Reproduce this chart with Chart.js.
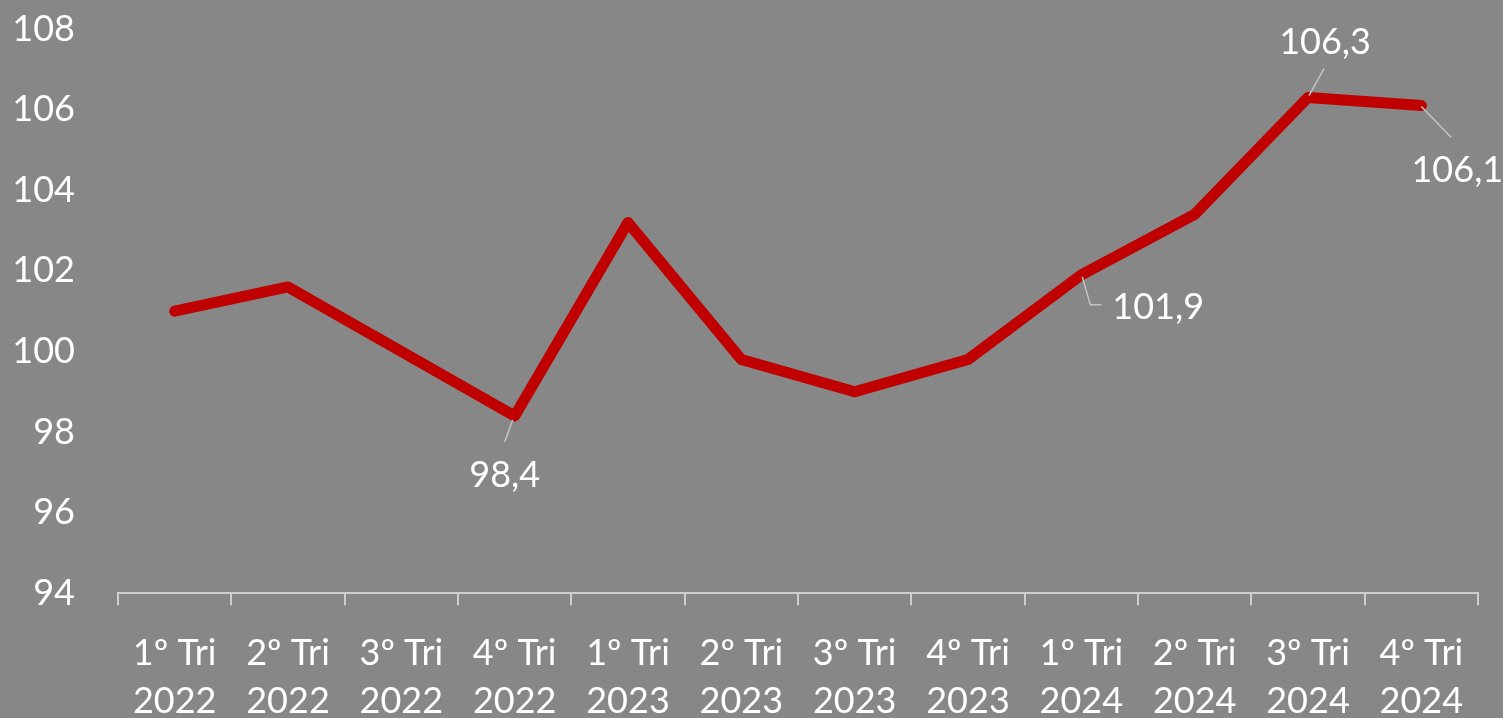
<!DOCTYPE html>
<html>
<head>
<meta charset="utf-8">
<script src="https://cdn.jsdelivr.net/npm/chart.js@4.4.1/dist/chart.umd.min.js"></script>
<style>
  html, body { margin: 0; padding: 0; background: #878787; overflow: hidden; }
  #wrap { position: relative; width: 1503px; height: 749px; }
</style>
</head>
<body>
<div id="wrap"><canvas id="chart"></canvas></div>
<script>
// Índice trimestral 2022-2024
const categories = [
  ['1º Tri', '2022'], ['2º Tri', '2022'], ['3º Tri', '2022'], ['4º Tri', '2022'],
  ['1º Tri', '2023'], ['2º Tri', '2023'], ['3º Tri', '2023'], ['4º Tri', '2023'],
  ['1º Tri', '2024'], ['2º Tri', '2024'], ['3º Tri', '2024'], ['4º Tri', '2024']
];
const values = [101.0, 101.6, 100.0, 98.4, 103.2, 99.8, 99.0, 99.8, 101.9, 103.4, 106.3, 106.1];
const yMin = 94;
const yMax = 108;
const yStep = 2;
const labelledPoints = [3, 8, 10, 11];

const FONT = 'Lato, "Source Sans Pro", "Noto Sans", sans-serif';
const lineColor = '#c00000';
const leaderColor = '#c4c4c4';
const axisColor = '#cfcfcf';

// --- Data labels with leader lines ---
const leaderPlugin = {
  id: 'leaderLabels',
  afterDatasetsDraw(chart) {
    const ctx = chart.ctx;
    const meta = chart.getDatasetMeta(0);
    // offsets relative to the point: [leader path..., text anchor]
    const layout = {
      3:  { path: [[-2, 4], [-10, 26]], text: [-10, 59], align: 'center' },
      8:  { path: [[1, 2], [9, 30], [20, 30]], text: [31, 33], align: 'left' },
      10: { path: [[1, -2], [16, -29]], text: [17, -55], align: 'center' },
      11: { path: [[0, 1], [30, 32]], text: [36, 65], align: 'center' }
    };
    ctx.save();
    labelledPoints.forEach(function (i) {
      const p = meta.data[i];
      const l = layout[i];
      ctx.strokeStyle = leaderColor;
      ctx.lineWidth = 1.5;
      ctx.beginPath();
      l.path.forEach(function (o, k) {
        if (k === 0) ctx.moveTo(p.x + o[0], p.y + o[1]);
        else ctx.lineTo(p.x + o[0], p.y + o[1]);
      });
      ctx.stroke();
      ctx.fillStyle = '#ffffff';
      ctx.font = '36px ' + FONT;
      ctx.textAlign = l.align;
      ctx.textBaseline = 'middle';
      ctx.fillText(values[i].toFixed(1).replace('.', ','), p.x + l.text[0], p.y + l.text[1]);
    });
    ctx.restore();
  }
};

new Chart(document.getElementById('chart'), {
  type: 'line',
  data: {
    labels: categories,
    datasets: [{
      data: values,
      borderColor: lineColor,
      borderWidth: 11,
      borderCapStyle: 'round',
      borderJoinStyle: 'round',
      pointRadius: 0,
      tension: 0,
      fill: false
    }]
  },
  options: {
    responsive: true,
    maintainAspectRatio: false,
    animation: false,
    layout: { padding: { top: 29, right: 25, left: 0, bottom: 0 } },
    plugins: {
      legend: { display: false },
      tooltip: { enabled: false }
    },
    scales: {
      x: {
        offset: true,
        grid: {
          offset: true,
          drawOnChartArea: false,
          drawTicks: true,
          tickLength: 12,
          color: axisColor,
          lineWidth: 2
        },
        border: { display: true, color: axisColor, width: 2 },
        ticks: {
          color: '#ffffff',
          font: { family: FONT, size: 36, lineHeight: 1.33 },
          padding: 24,
          maxRotation: 0,
          autoSkip: false
        }
      },
      y: {
        min: yMin,
        max: yMax,
        grid: { display: false, drawTicks: false },
        border: { display: false },
        afterFit: function (scale) {
          scale.width = 118;
          // tick padding is horizontal only here
          scale.paddingTop = 0;
          scale.paddingBottom = 0;
        },
        ticks: {
          stepSize: yStep,
          color: '#ffffff',
          font: { family: FONT, size: 36 },
          padding: 43,
          callback: function (v) { return v; }
        }
      }
    }
  },
  plugins: [leaderPlugin]
});
</script>
</body>
</html>
